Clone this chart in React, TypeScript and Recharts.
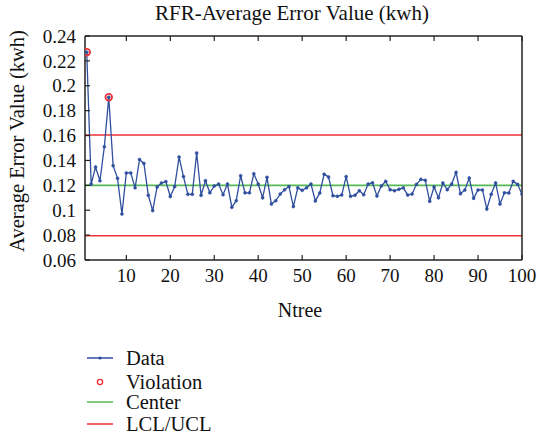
import { ComposedChart, Line, Scatter, XAxis, YAxis, ReferenceLine } from 'recharts'

// average error per Ntree (1..100)
const errorValues = [
  0.227, 0.121, 0.1347, 0.1237, 0.151, 0.1908, 0.1358, 0.1256, 0.097, 0.13,
  0.13, 0.118, 0.1408, 0.1376, 0.112, 0.0997, 0.1187, 0.1219, 0.123, 0.111,
  0.119, 0.1427, 0.127, 0.1128, 0.1128, 0.146, 0.112, 0.1237, 0.114, 0.1195,
  0.121, 0.1125, 0.121, 0.1024, 0.1077, 0.1277, 0.114, 0.114, 0.1293, 0.121,
  0.11, 0.1264, 0.105, 0.1077, 0.113, 0.1165, 0.119, 0.1029, 0.118, 0.116,
  0.118, 0.121, 0.1075, 0.1139, 0.129, 0.1267, 0.1117, 0.1112, 0.1123, 0.127,
  0.1112, 0.112, 0.1157, 0.1125, 0.121, 0.122, 0.1115, 0.1195, 0.1232, 0.1165,
  0.1157, 0.1168, 0.118, 0.1123, 0.113, 0.1208, 0.1248, 0.124, 0.1072, 0.1187,
  0.11, 0.1219, 0.1165, 0.121, 0.1304, 0.1133, 0.1163, 0.1259, 0.1096, 0.1163,
  0.1163, 0.101, 0.1128, 0.1219, 0.105, 0.114, 0.1139, 0.1232, 0.1208, 0.1128,
]
const violationIdx = [1, 6]
const center = 0.12
const ucl = 0.1605
const lcl = 0.0795

const xTicks = [10, 20, 30, 40, 50, 60, 70, 80, 90, 100]
const yTicks = [0.06, 0.08, 0.1, 0.12, 0.14, 0.16, 0.18, 0.2, 0.22, 0.24]

const BLUE = '#2f4f9e'
const RED = '#ec3337'
const GREEN = '#55b955'
const AXIS = '#222'
const FONT = '"Liberation Serif", "Times New Roman", serif'
const TICK_LEN = 5

const data = errorValues.map((v, i) => ({ ntree: i + 1, value: v }))
const violations = data.filter((d) => violationIdx.includes(d.ntree))

const fmt = (v: number) => String(Number(v.toFixed(2)))

// ticks point inward, matlab style
const BottomTick = (p: any) => (
  <g>
    <line x1={p.x} y1={p.y - 9} x2={p.x} y2={p.y - 9 - TICK_LEN} stroke={AXIS} strokeWidth={1.2} />
    <text x={p.x} y={p.y} dy="0.71em" textAnchor="middle" fill="#111" fontSize={19} fontFamily={FONT}>
      {p.payload.value}
    </text>
  </g>
)
const LeftTick = (p: any) => (
  <g>
    <line x1={p.x + 9} y1={p.y} x2={p.x + 9 + TICK_LEN} y2={p.y} stroke={AXIS} strokeWidth={1.2} />
    <text x={p.x} y={p.y} dy="0.35em" textAnchor="end" fill="#111" fontSize={19} fontFamily={FONT}>
      {fmt(p.payload.value)}
    </text>
  </g>
)
const TopTick = (p: any) => <line x1={p.x} y1={p.y} x2={p.x} y2={p.y + TICK_LEN} stroke={AXIS} strokeWidth={1.2} />
const RightTick = (p: any) => <line x1={p.x} y1={p.y} x2={p.x - TICK_LEN} y2={p.y} stroke={AXIS} strokeWidth={1.2} />

function LegendRow({ top, label, kind }: { top: number; label: string; kind: string }) {
  return (
    <div style={{ position: 'absolute', left: 86, top: top - 12, height: 24, display: 'flex', alignItems: 'center' }}>
      <svg width={30} height={24}>
        {kind === 'data' && (
          <>
            <line x1={1} y1={12} x2={27} y2={12} stroke={BLUE} strokeWidth={1.5} />
            <circle cx={14} cy={12} r={1.6} fill={BLUE} />
          </>
        )}
        {kind === 'violation' && <circle cx={14} cy={12} r={2.6} fill="none" stroke={RED} strokeWidth={1.4} />}
        {kind === 'center' && <line x1={1} y1={12} x2={27} y2={12} stroke={GREEN} strokeWidth={1.5} />}
        {kind === 'limit' && <line x1={1} y1={12} x2={27} y2={12} stroke={RED} strokeWidth={1.5} />}
      </svg>
      <span style={{ marginLeft: 10, fontSize: 20.5, color: '#111' }}>{label}</span>
    </div>
  )
}

export default function App() {
  return (
    <div style={{ position: 'absolute', left: 0, top: 0, width: 537, height: 438, fontFamily: FONT, background: '#fff' }}>
      <div style={{ position: 'absolute', left: 292, top: 1, transform: 'translateX(-50%)', whiteSpace: 'nowrap', fontSize: 21, color: '#111' }}>
        RFR-Average Error Value (kwh)
      </div>
      <div
        style={{
          position: 'absolute', left: 17, top: 141, fontSize: 20.5, color: '#111', whiteSpace: 'nowrap',
          transform: 'translate(-50%, -50%) rotate(-90deg)',
        }}
      >
        Average Error Value (kwh)
      </div>
      <div style={{ position: 'absolute', left: 300, top: 299, transform: 'translateX(-50%)', fontSize: 20, color: '#111' }}>
        Ntree
      </div>

      <ComposedChart width={537} height={438} data={data} margin={{ top: 35, right: 14, bottom: 148, left: 25 }}>
        <XAxis
          xAxisId="b" dataKey="ntree" type="number" domain={[0.6, 100]} ticks={xTicks} allowDataOverflow interval={0}
          height={30} tickSize={0} tickMargin={9} tickLine={false} stroke={AXIS} strokeWidth={1.5} tick={BottomTick}
        />
        <XAxis
          xAxisId="t" orientation="top" dataKey="ntree" type="number" domain={[0.6, 100]} ticks={xTicks} allowDataOverflow
          interval={0} height={1} tickSize={0} tickMargin={0} tickLine={false} stroke={AXIS} strokeWidth={1.5} tick={TopTick}
        />
        <YAxis
          yAxisId="l" type="number" domain={[0.06, 0.24]} ticks={yTicks} width={60} tickSize={0} tickMargin={9}
          tickLine={false} stroke={AXIS} strokeWidth={1.5} interval={0} tick={LeftTick}
        />
        <YAxis
          yAxisId="r" orientation="right" type="number" domain={[0.06, 0.24]} ticks={yTicks} width={1} tickSize={0}
          tickMargin={0} tickLine={false} stroke={AXIS} strokeWidth={1.5} interval={0} tick={RightTick}
        />
        <ReferenceLine xAxisId="b" yAxisId="l" y={ucl} stroke={RED} strokeWidth={1.4} />
        <ReferenceLine xAxisId="b" yAxisId="l" y={lcl} stroke={RED} strokeWidth={1.4} />
        <ReferenceLine xAxisId="b" yAxisId="l" y={center} stroke={GREEN} strokeWidth={1.6} />
        <Scatter
          xAxisId="b" yAxisId="l" data={violations} dataKey="value" isAnimationActive={false}
          shape={(p: any) => <circle cx={p.cx} cy={p.cy} r={3.3} fill="none" stroke={RED} strokeWidth={1.8} />}
        />
        <Line
          xAxisId="b" yAxisId="l" dataKey="value" type="linear" stroke={BLUE} strokeWidth={1.3}
          dot={{ r: 1.5, fill: BLUE, stroke: BLUE, strokeWidth: 0.5 }} activeDot={false} isAnimationActive={false}
        />
      </ComposedChart>

      <LegendRow top={358} label="Data" kind="data" />
      <LegendRow top={382} label="Violation" kind="violation" />
      <LegendRow top={402} label="Center" kind="center" />
      <LegendRow top={424} label="LCL/UCL" kind="limit" />
    </div>
  )
}
